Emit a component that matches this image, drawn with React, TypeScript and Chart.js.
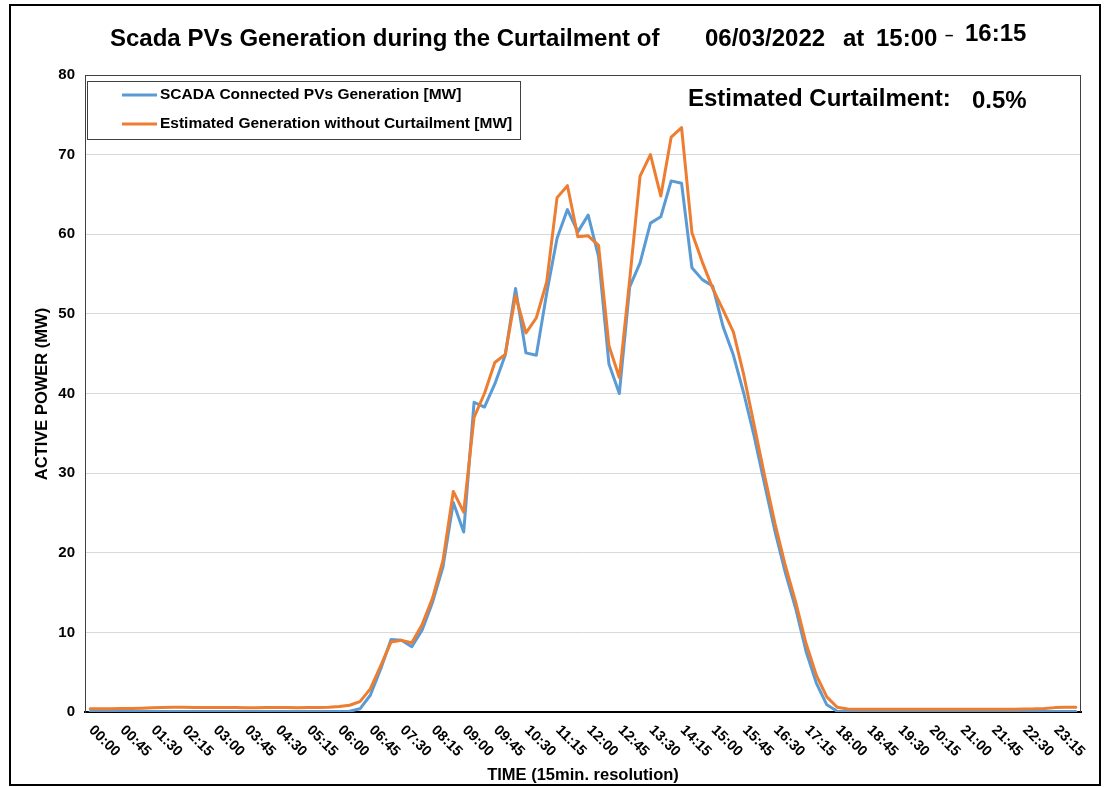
import React, { useEffect, useRef } from "react";
import { Chart, registerables } from "chart.js";

Chart.register(...registerables);

const TIMES = [
  "00:00","00:15","00:30","00:45","01:00","01:15","01:30","01:45",
  "02:00","02:15","02:30","02:45","03:00","03:15","03:30","03:45",
  "04:00","04:15","04:30","04:45","05:00","05:15","05:30","05:45",
  "06:00","06:15","06:30","06:45","07:00","07:15","07:30","07:45",
  "08:00","08:15","08:30","08:45","09:00","09:15","09:30","09:45",
  "10:00","10:15","10:30","10:45","11:00","11:15","11:30","11:45",
  "12:00","12:15","12:30","12:45","13:00","13:15","13:30","13:45",
  "14:00","14:15","14:30","14:45","15:00","15:15","15:30","15:45",
  "16:00","16:15","16:30","16:45","17:00","17:15","17:30","17:45",
  "18:00","18:15","18:30","18:45","19:00","19:15","19:30","19:45",
  "20:00","20:15","20:30","20:45","21:00","21:15","21:30","21:45",
  "22:00","22:15","22:30","22:45","23:00","23:15","23:30","23:45",
];

const SCADA_MW = [
  0.05,0.05,0.05,0.05,0.05,0.05,0.05,0.05,
  0.05,0.05,0.05,0.05,0.05,0.05,0.05,0.05,
  0.05,0.05,0.05,0.05,0.05,0.05,0.05,0.05,
  0.05,0.1,0.4,2.1,5.4,9.1,9.0,8.2,
  10.3,13.8,18.2,26.3,22.6,38.9,38.3,41.2,
  44.8,53.2,45.1,44.8,52.6,59.5,63.1,60.3,
  62.4,57.2,43.7,40.0,53.4,56.4,61.4,62.2,
  66.7,66.4,55.8,54.3,53.5,48.4,44.8,40.0,
  34.6,28.6,22.7,17.5,13.0,7.6,3.6,0.9,
  0.1,0.05,0.05,0.05,0.05,0.05,0.05,0.05,
  0.05,0.05,0.05,0.05,0.05,0.05,0.05,0.05,
  0.05,0.05,0.05,0.05,0.05,0.05,0.05,0.05,
];

const ESTIMATED_MW = [
  0.40,0.40,0.42,0.43,0.45,0.48,0.52,0.57,
  0.60,0.60,0.58,0.57,0.56,0.55,0.55,0.53,
  0.53,0.55,0.55,0.56,0.54,0.55,0.56,0.60,
  0.68,0.85,1.3,2.9,5.8,8.8,9.0,8.7,
  11.0,14.3,19.0,27.7,25.1,37.0,40.0,43.9,
  44.9,52.3,47.6,49.5,54.0,64.6,66.1,59.7,
  59.8,58.6,46.0,42.0,54.3,67.3,70.0,64.8,
  72.2,73.4,60.2,56.5,53.2,50.5,47.7,42.3,
  36.0,29.7,23.7,18.4,13.8,8.6,4.6,1.9,
  0.6,0.38,0.35,0.34,0.33,0.33,0.33,0.33,
  0.33,0.33,0.33,0.33,0.35,0.35,0.33,0.33,
  0.33,0.35,0.38,0.40,0.45,0.55,0.60,0.60,
];

const SERIES_NAMES = [
  "SCADA Connected PVs Generation [MW]",
  "Estimated Generation without Curtailment [MW]",
];
const SERIES_COLORS = ["#5B9BD5", "#ED7D31"];

const TITLE_PARTS = ["Scada PVs Generation during the Curtailment of", "06/03/2022", "at", "15:00", "\u2013", "16:15"];
const CURTAILMENT_LABEL = "Estimated Curtailment:";
const CURTAILMENT_VALUE = "0.5%";
const X_TITLE = "TIME (15min. resolution)";
const Y_TITLE = "ACTIVE POWER (MW)";
const X_LABEL_EVERY = 3;

const FONT = "'Liberation Sans', Arial, sans-serif";

const decorPlugin = {
  id: "decor",
  beforeDatasetsDraw(chart: any) {
    const { ctx, chartArea } = chart;
    ctx.save();
    ctx.strokeStyle = "#404040";
    ctx.lineWidth = 1;
    ctx.beginPath();
    ctx.moveTo(chartArea.left, chartArea.top + 0.5);
    ctx.lineTo(chartArea.right, chartArea.top + 0.5);
    ctx.moveTo(chartArea.right - 0.5, chartArea.top);
    ctx.lineTo(chartArea.right - 0.5, chartArea.bottom);
    ctx.stroke();
    ctx.restore();
  },
  afterDraw(chart: any) {
    const { ctx, chartArea } = chart;
    const xs = chart.scales.x;
    ctx.save();

    // outer border
    ctx.strokeStyle = "#000";
    ctx.lineWidth = 2;
    ctx.strokeRect(10, 5, 1090, 780);

    // title
    ctx.fillStyle = "#000";
    ctx.textAlign = "left";
    ctx.textBaseline = "alphabetic";
    ctx.font = `bold 24px ${FONT}`;
    ctx.fillText(TITLE_PARTS[0], 110, 46);
    ctx.fillText(TITLE_PARTS[1], 705, 46);
    ctx.fillText(TITLE_PARTS[2], 843, 46);
    ctx.fillText(TITLE_PARTS[3], 876, 46);
    ctx.font = `bold 15px ${FONT}`;
    ctx.fillText(TITLE_PARTS[4], 945, 40);
    ctx.font = `bold 24px ${FONT}`;
    ctx.fillText(TITLE_PARTS[5], 965, 41);

    // curtailment annotation
    ctx.font = `bold 24px ${FONT}`;
    ctx.fillText(CURTAILMENT_LABEL, 688, 106);
    ctx.fillText(CURTAILMENT_VALUE, 972, 108);

    // legend
    const lx = 87, ly = 81, lw = 433, lh = 58;
    ctx.fillStyle = "#fff";
    ctx.fillRect(lx, ly, lw, lh);
    ctx.strokeStyle = "#404040";
    ctx.lineWidth = 1;
    ctx.strokeRect(lx + 0.5, ly + 0.5, lw, lh);
    ctx.font = `bold 15.5px ${FONT}`;
    ctx.textBaseline = "middle";
    SERIES_NAMES.forEach((name, i) => {
      const yy = 95 + i * 29;
      ctx.strokeStyle = SERIES_COLORS[i];
      ctx.lineWidth = 3;
      ctx.beginPath();
      ctx.moveTo(122, yy);
      ctx.lineTo(157, yy);
      ctx.stroke();
      ctx.fillStyle = "#000";
      ctx.fillText(name, 160, yy);
    });

    // x tick labels rotated +45deg
    ctx.font = `bold 14.5px ${FONT}`;
    ctx.fillStyle = "#000";
    ctx.textAlign = "left";
    ctx.textBaseline = "middle";
    TIMES.forEach((t, i) => {
      if (i % X_LABEL_EVERY !== 0) return;
      const x = xs.getPixelForValue(i);
      ctx.save();
      ctx.translate(x + 1, chartArea.bottom + 16);
      ctx.rotate(Math.PI / 4);
      ctx.fillText(t, 0, 0);
      ctx.restore();
    });

    // axis titles
    ctx.font = `bold 16.5px ${FONT}`;
    ctx.textAlign = "center";
    ctx.textBaseline = "middle";
    ctx.fillText(X_TITLE, 583, 775);
    ctx.save();
    ctx.translate(42, 394);
    ctx.rotate(-Math.PI / 2);
    ctx.fillText(Y_TITLE, 0, 0);
    ctx.restore();

    ctx.restore();
  },
};

export default function App() {
  const ref = useRef<HTMLCanvasElement | null>(null);
  useEffect(() => {
    if (!ref.current) return;
    const chart = new Chart(ref.current, {
      type: "line",
      data: {
        labels: TIMES,
        datasets: [
          {
            label: SERIES_NAMES[0],
            data: SCADA_MW,
            borderColor: SERIES_COLORS[0],
            backgroundColor: SERIES_COLORS[0],
            borderWidth: 3,
            pointRadius: 0,
            tension: 0,
            borderJoinStyle: "round",
            borderCapStyle: "round",
            order: 2,
          },
          {
            label: SERIES_NAMES[1],
            data: ESTIMATED_MW,
            borderColor: SERIES_COLORS[1],
            backgroundColor: SERIES_COLORS[1],
            borderWidth: 3,
            pointRadius: 0,
            tension: 0,
            borderJoinStyle: "round",
            borderCapStyle: "round",
            order: 1,
          },
        ],
      },
      options: {
        responsive: false,
        devicePixelRatio: 1,
        animation: false,
        layout: { padding: { top: 75, right: 24, bottom: 0, left: 0 } },
        plugins: {
          legend: { display: false },
          title: { display: false },
          tooltip: { enabled: false },
        },
        scales: {
          x: {
            type: "category",
            offset: true,
            grid: { display: false, drawTicks: false },
            ticks: { display: false },
            border: { display: true, color: "#000", width: 2 },
            afterFit: (s: any) => {
              s.height = 75;
            },
          },
          y: {
            min: 0,
            max: 80,
            ticks: {
              stepSize: 10,
              color: "#000",
              padding: 10,
              font: { family: FONT, size: 15, weight: "bold" },
            },
            grid: { color: "#d9d9d9", lineWidth: 1, drawTicks: false },
            border: { display: true, color: "#404040", width: 1 },
            afterFit: (s: any) => {
              s.width = 85;
            },
          },
        },
      } as any,
      plugins: [decorPlugin],
    });
    return () => chart.destroy();
  }, []);
  return (
    <canvas
      ref={ref}
      width={1105}
      height={787}
      style={{ position: "absolute", left: 0, top: 0, width: 1105, height: 787 }}
    />
  );
}
